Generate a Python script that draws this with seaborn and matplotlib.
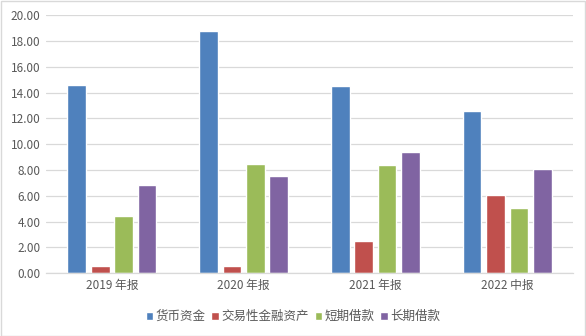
import matplotlib
matplotlib.use("Agg")
import matplotlib.pyplot as plt
import seaborn as sns
import pandas as pd
from matplotlib.patches import Rectangle

categories = ["2019 年报", "2020 年报", "2021 年报", "2022 中报"]
series_names = ["货币资金", "交易性金融资产", "短期借款", "长期借款"]
cash = [14.60, 18.78, 14.52, 12.60]
trading_assets = [0.57, 0.57, 2.53, 6.07]
short_loans = [4.44, 8.47, 8.40, 5.06]
long_loans = [6.84, 7.54, 9.40, 8.08]
yticks = [0, 2, 4, 6, 8, 10, 12, 14, 16, 18, 20]

colors = ["#4F81BD", "#C0504D", "#9BBB59", "#8064A2"]

rows = []
for name, vals in zip(series_names, [cash, trading_assets, short_loans, long_loans]):
    for c, v in zip(categories, vals):
        rows.append({"cat": c, "series": name, "value": v})
df = pd.DataFrame(rows)

sns.set_theme(style="white")
plt.rcParams['font.family'] = ['Noto Sans CJK SC', 'DejaVu Sans']

fig = plt.figure(figsize=(5.86, 3.36), dpi=100)
ax = fig.add_axes([0.0785, 0.1866, 0.8995, 0.768])

sns.barplot(data=df, x="cat", y="value", hue="series", order=categories,
            hue_order=series_names, palette=colors, width=0.71, gap=0.2,
            saturation=1, errorbar=None, ax=ax, legend=True)

ax.set_ylim(0, 20)
ax.set_yticks(yticks)
ax.set_yticklabels([f"{t:.2f}" for t in yticks])
ax.set_xlim(-0.5, len(categories) - 0.5)
ax.yaxis.grid(True, color="#D9D9D9", linewidth=0.9)
ax.set_axisbelow(True)
for s in ["top", "right", "left"]:
    ax.spines[s].set_visible(False)
ax.spines["bottom"].set_color("#D9D9D9")
ax.spines["bottom"].set_linewidth(0.9)
ax.tick_params(axis="both", length=0, labelsize=8.5, colors="#595959", pad=4)
ax.set_xlabel("")
ax.set_ylabel("")

handles, labels = ax.get_legend_handles_labels()
ax.legend_.remove()
fig.legend(handles, labels, loc="center", bbox_to_anchor=(0.5, 0.058), ncol=4,
           frameon=False, fontsize=9, handlelength=0.6, handleheight=0.6,
           handletextpad=0.2, columnspacing=0.45, labelcolor="#595959")

fig.patches.append(Rectangle((0.001, 0.001), 0.997, 0.997, transform=fig.transFigure,
                             fill=False, edgecolor="#D9D9D9", linewidth=1))

fig.savefig("out.png", dpi=100)
